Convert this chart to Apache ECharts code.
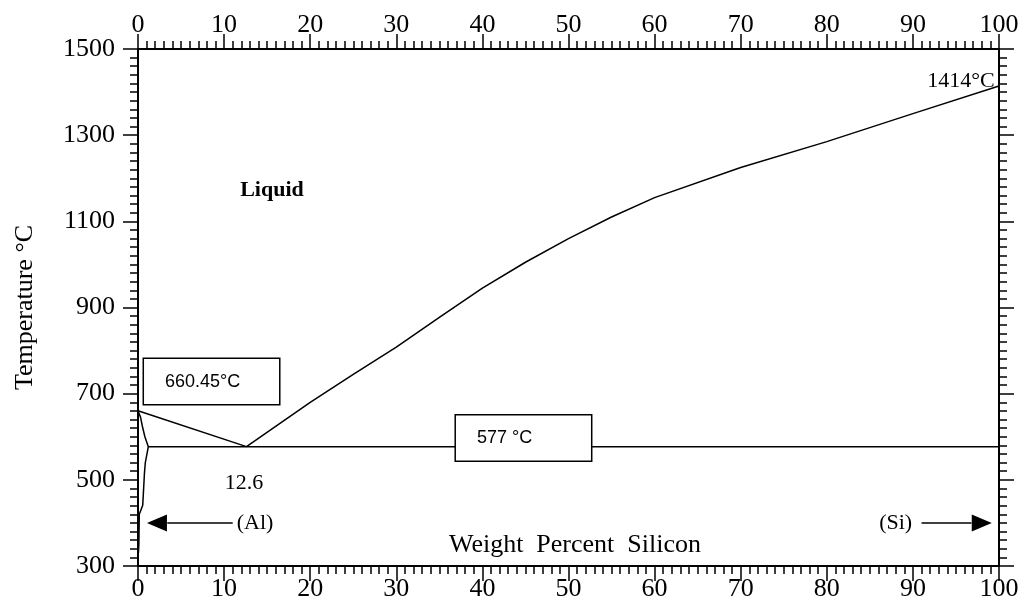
<!DOCTYPE html>
<html>
<head>
<meta charset="utf-8">
<script src="https://cdn.jsdelivr.net/npm/echarts@6/dist/echarts.min.js"></script>
<style>
html,body{margin:0;padding:0;background:#fff;}
#chart{width:1025px;height:605px;}
</style>
</head>
<body>
<div id="chart"></div>
<script>
// ---- data (weight % Si, temperature °C) ----
const liquidusAl = [[0, 660.45], [12.6, 577]];
const liquidusSi = [[12.6, 577], [20, 680], [25, 745], [30, 808], [35, 877], [40, 945], [45, 1005], [50, 1060], [55, 1110], [60, 1155], [70, 1225], [80, 1285], [90, 1350], [100, 1414]];
const eutectic = [[1.2, 577], [100, 577]];
const solidusAl = [[0, 660.45], [0.3, 645], [0.5, 625], [0.8, 600], [1.2, 577]];
const solvusAl = [[1.2, 577], [0.85, 540], [0.75, 516], [0.55, 441], [0.15, 420], [0.1, 350], [0.05, 330]];
const arrowAl = [[11.0, 400], [3.4, 400]];
const arrowSi = [[91.0, 400], [96.8, 400]];
const arrowHeadAl = [[2.2, 400]];
const arrowHeadSi = [[98.0, 400]];
const xTickRange = [0, 100, 10];
const yTickRange = [300, 1500, 200];
const xAxisTitle = 'Weight  Percent  Silicon';
const yAxisTitle = 'Temperature °C';
const textNotes = [
  ['Liquid', 15.56, 1172],
  ['1414°C', 99.5, 1425],
  ['12.6', 12.3, 492.6],
  ['(Al)', 13.6, 400],
  ['(Si)', 88.0, 400],
  [xAxisTitle, 50.75, 349]
];
const boxNotes = [
  ['660.45°C', 0.7, 728],
  ['577 °C', 36.93, 597]
];

// ---- chart ----
const serif = 'Liberation Serif';
const noteStyles = {
  'Liquid': {fontSize: 22, fontWeight: 'bold', align: 'center'},
  '1414°C': {fontSize: 22, align: 'right'},
  '12.6': {fontSize: 22, align: 'center'},
  '(Al)': {fontSize: 22, align: 'center'},
  '(Si)': {fontSize: 22, align: 'center'}
};
noteStyles[xAxisTitle] = {fontSize: 26, align: 'center'};

function axisCommon(pos, showLabel, range, labelMargin) {
  return {
    type: 'value', position: pos,
    min: range[0], max: range[1], interval: range[2],
    axisLine: {show: true, onZero: false, lineStyle: {color: '#000', width: 2}},
    axisTick: {show: true, inside: false, length: 15, lineStyle: {color: '#000', width: 1.5}},
    minorTick: {show: true, splitNumber: 10, length: 8, lineStyle: {color: '#000', width: 1.5}},
    axisLabel: {show: showLabel, margin: labelMargin, color: '#000', fontFamily: serif, fontSize: 26,
      formatter: v => String(v)},
    splitLine: {show: false}, minorSplitLine: {show: false}
  };
}

const lineStyle = {color: '#000', width: 1.5};
function lineSeries(data) {
  return {type: 'line', data: data, symbol: 'none', lineStyle: lineStyle, animation: false, silent: true, z: 3};
}

const option = {
  animation: false,
  backgroundColor: '#fff',
  grid: {left: 138, right: 26, top: 49, bottom: 39},
  xAxis: [
    axisCommon('bottom', true, xTickRange, 10),
    axisCommon('top', true, xTickRange, 11)
  ],
  yAxis: [
    Object.assign(axisCommon('left', true, yTickRange, 23), {
      name: yAxisTitle, nameLocation: 'middle', nameGap: 100, nameRotate: 90,
      nameTextStyle: {fontFamily: serif, fontSize: 26, color: '#000'}
    }),
    axisCommon('right', false, yTickRange, 8)
  ],
  series: [
    lineSeries(liquidusAl),
    lineSeries(liquidusSi),
    lineSeries(eutectic),
    lineSeries(solidusAl),
    lineSeries(solvusAl),
    lineSeries(arrowAl),
    lineSeries(arrowSi),
    {type: 'scatter', data: arrowHeadAl, symbol: 'triangle', symbolSize: [17, 20], symbolRotate: 90,
     itemStyle: {color: '#000', opacity: 1}, silent: true, z: 4},
    {type: 'scatter', data: arrowHeadSi, symbol: 'triangle', symbolSize: [17, 20], symbolRotate: -90,
     itemStyle: {color: '#000', opacity: 1}, silent: true, z: 4},
    {type: 'scatter', symbolSize: 0, silent: true, clip: false, z: 5,
     itemStyle: {opacity: 1},
     data: textNotes.map(n => ({name: n[0], value: [n[1], n[2]],
       label: Object.assign({show: true, position: 'inside', formatter: '{b}', color: '#000',
         fontFamily: serif, verticalAlign: 'middle'}, noteStyles[n[0]])}))},
    {type: 'scatter', symbolSize: 0, silent: true, clip: false, z: 6,
     itemStyle: {opacity: 1},
     data: boxNotes.map(n => ({name: n[0], value: [n[1], n[2]],
       label: {show: true, position: 'inside', formatter: '{b}', color: '#000',
         fontFamily: 'Liberation Sans', fontSize: 18, backgroundColor: '#fff',
         borderColor: '#000', borderWidth: 1.5, padding: [0, 0, 0, 21], width: 114, height: 45,
         lineHeight: 45, align: 'left', verticalAlign: 'middle'}}))}
  ]
};

const chart = echarts.init(document.getElementById('chart'), null, {renderer: 'canvas'});
chart.setOption(option);
</script>
</body>
</html>
